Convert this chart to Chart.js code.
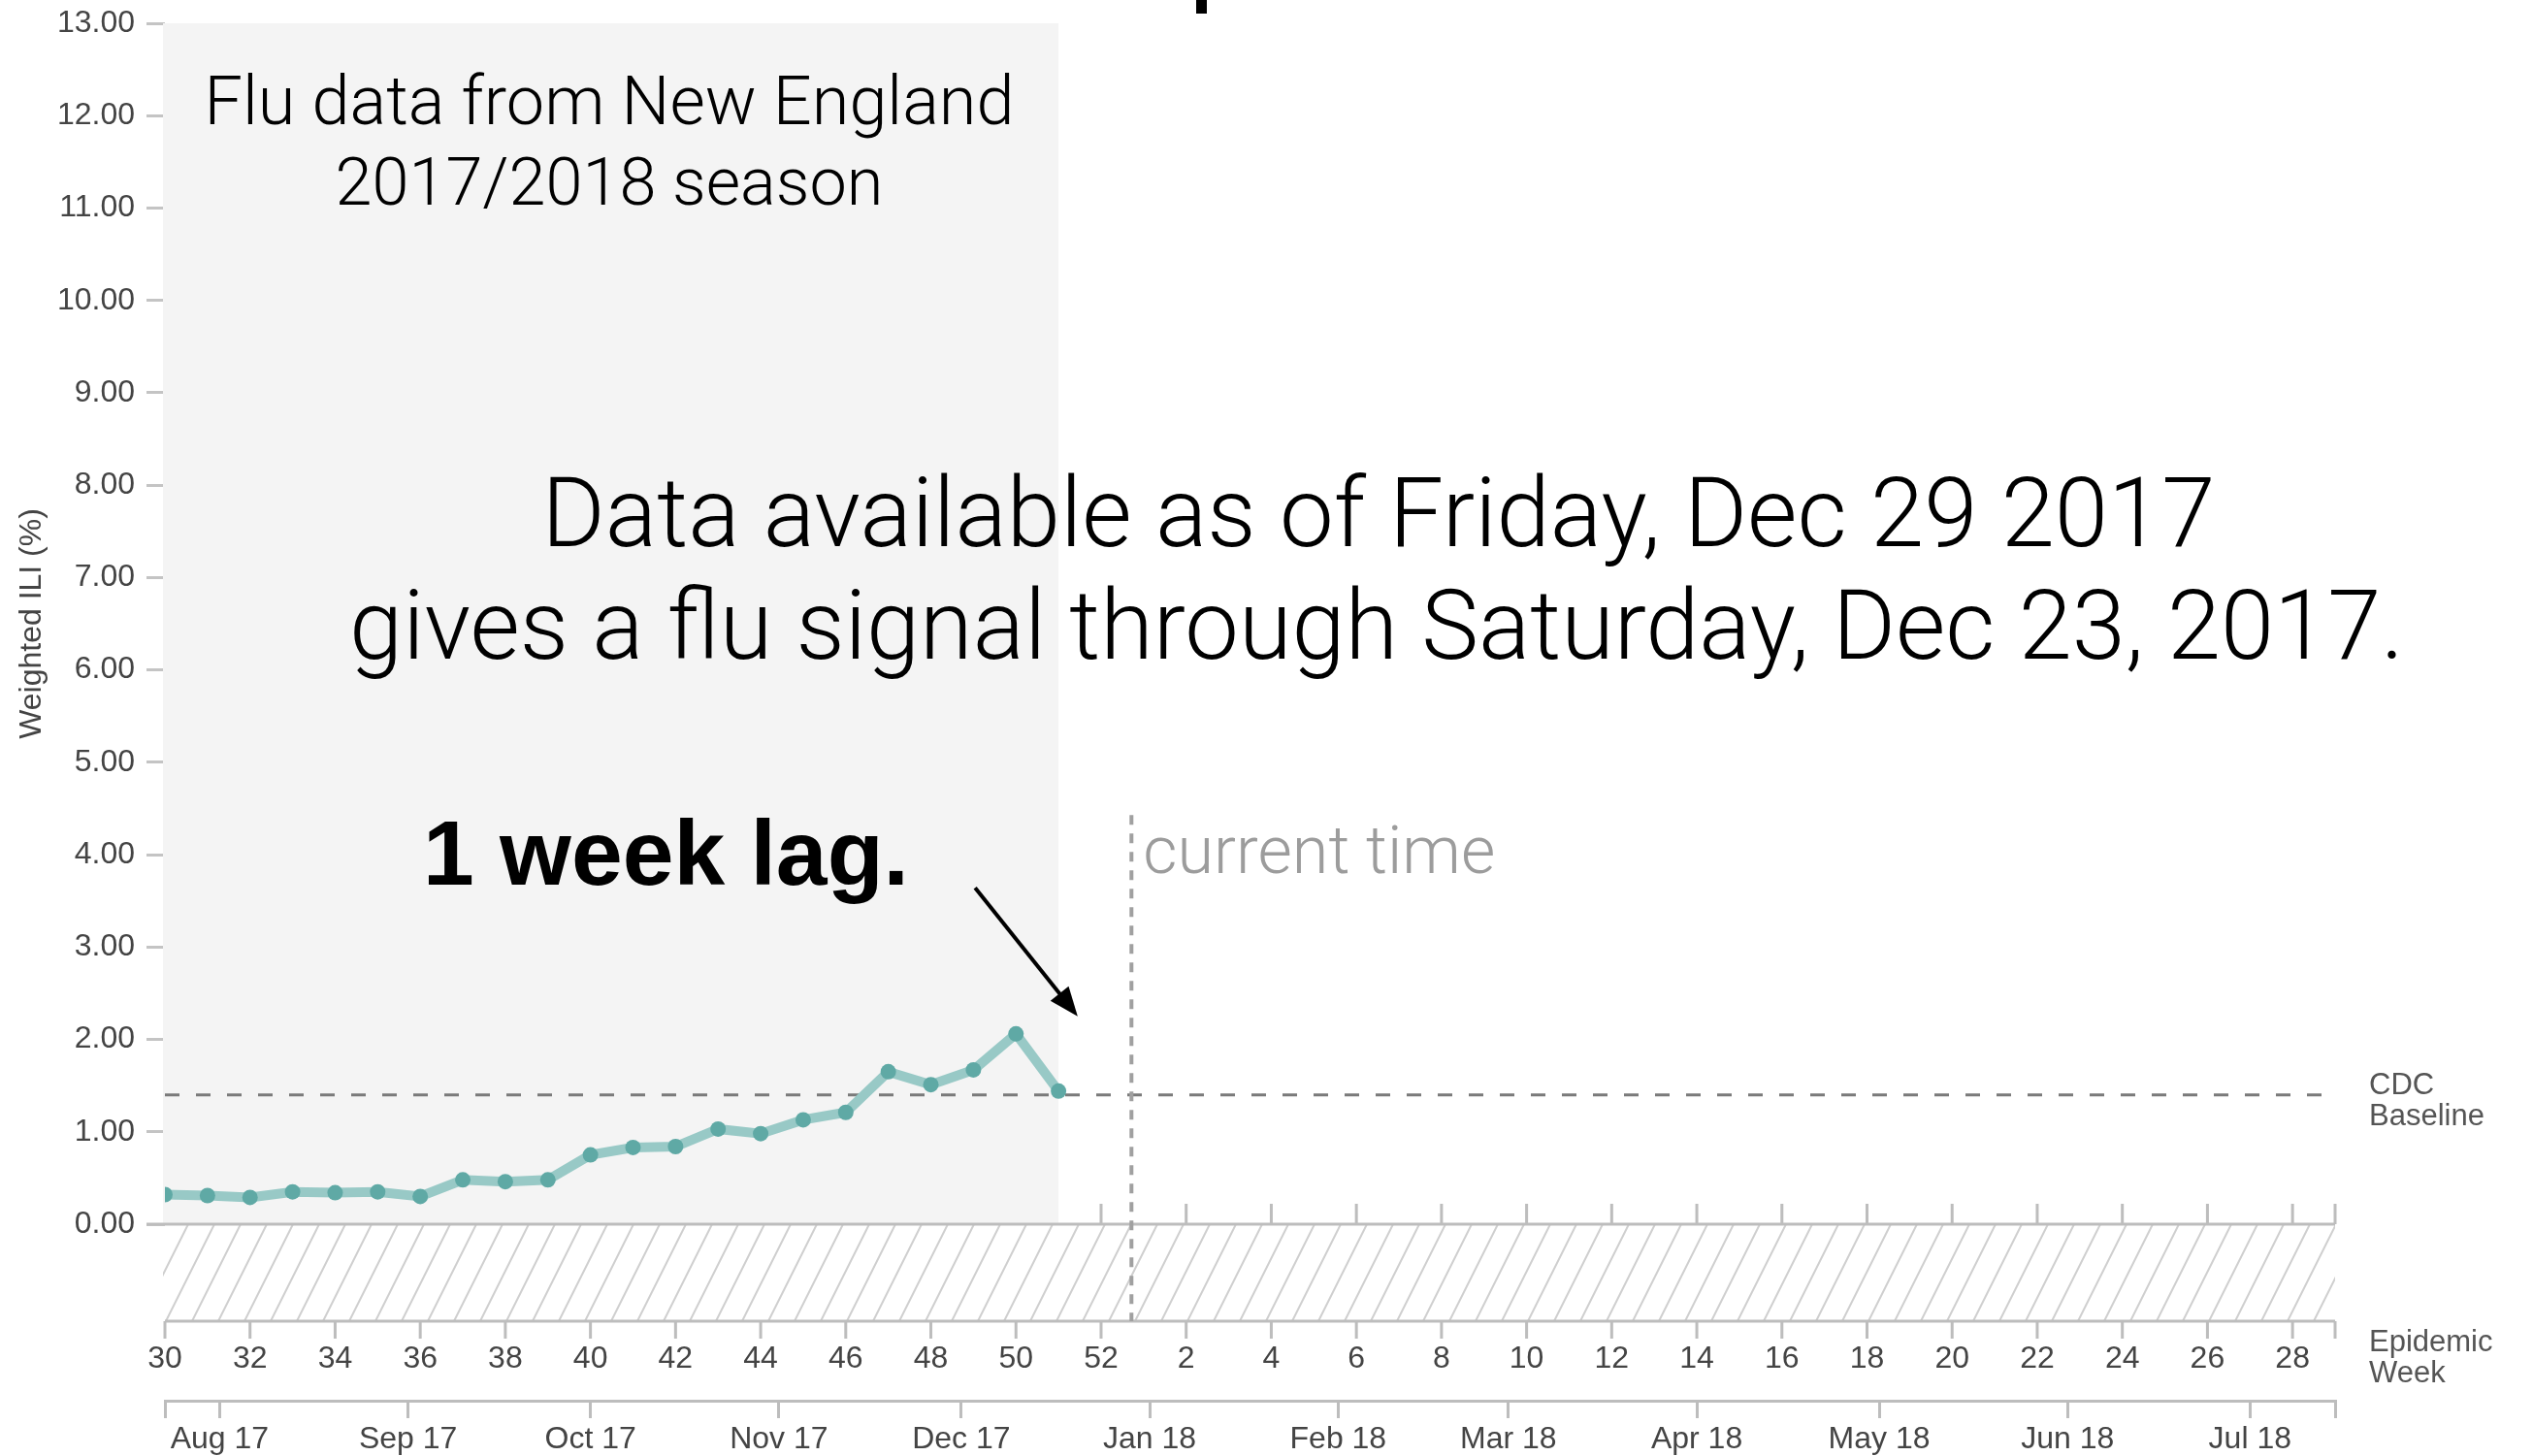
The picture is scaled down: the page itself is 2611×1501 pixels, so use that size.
<!DOCTYPE html>
<html>
<head>
<meta charset="utf-8">
<script src="https://cdn.jsdelivr.net/npm/chart.js@4.4.1/dist/chart.umd.min.js"></script>
<style>
  html, body { margin: 0; padding: 0; background: #fff; }
</style>
</head>
<body>
<canvas id="mychart" width="2611" height="1501"></canvas>
<script>
// epidemic weeks of the 2017/2018 season, in axis order
const seasonWeeks = [30,31,32,33,34,35,36,37,38,39,40,41,42,43,44,45,46,47,48,49,50,51,52,
                     1,2,3,4,5,6,7,8,9,10,11,12,13,14,15,16,17,18,19,20,21,22,23,24,25,26,27,28,29];

// weeks with data and their weighted ILI (%)
const fluWeeks = [30,31,32,33,34,35,36,37,38,39,40,41,42,43,44,45,46,47,48,49,50,51];
const iliValues = [0.32,0.31,0.29,0.35,0.34,0.35,0.30,0.48,0.46,0.48,0.75,0.83,0.84,1.03,0.98,1.13,1.21,1.65,1.51,1.67,2.06,1.44];

const yTicks = [0,1,2,3,4,5,6,7,8,9,10,11,12,13];
const monthLabels = ['Aug 17','Sep 17','Oct 17','Nov 17','Dec 17','Jan 18','Feb 18','Mar 18','Apr 18','May 18','Jun 18','Jul 18'];
const monthStarts = ['2017-08-01','2017-09-01','2017-10-01','2017-11-01','2017-12-01','2018-01-01',
                     '2018-02-01','2018-03-01','2018-04-01','2018-05-01','2018-06-01','2018-07-01'];

const seasonStart = '2017-07-23';   // sunday that opens week 30
const currentDay = '2017-12-29';
const cdcBaseline = 1.4;

const FONT = "'Liberation Sans', Arial, Helvetica, sans-serif";
const LIGHT = "Roboto, 'Liberation Sans', Arial, sans-serif";

// date -> position on the week axis
function weekIndex(d) {
  return (Date.parse(d) - Date.parse(seasonStart)) / (7 * 86400000);
}

// font size so that text takes the given width
function fitSize(ctx, text, font, width) {
  ctx.font = font.replace('SIZE', '100px');
  return 100 * width / ctx.measureText(text).width;
}

function drawText(ctx, text, x, y, font, size, color, align) {
  ctx.font = font.replace('SIZE', size + 'px');
  ctx.fillStyle = color;
  ctx.textAlign = align;
  ctx.textBaseline = 'alphabetic';
  ctx.fillText(text, x, y);
}

// background bits: hatch band, week ticks, shaded data area, baseline, current time
const backdrop = {
  id: 'backdrop',
  beforeDatasetsDraw(chart) {
    const {ctx, chartArea} = chart;
    const x = chart.scales.x, y = chart.scales.y;
    const y0 = y.getPixelForValue(0);
    const bandH = 100;
    const xEnd = x.getPixelForValue(seasonWeeks.length - 1);
    ctx.save();

    // hatched band under the zero line
    ctx.save();
    ctx.beginPath();
    ctx.rect(chartArea.left - 2, y0, xEnd - chartArea.left + 2, bandH);
    ctx.clip();
    ctx.strokeStyle = '#cfcfcf';
    ctx.lineWidth = 2;
    ctx.beginPath();
    for (let sx = chartArea.left - 80; sx < xEnd + 60; sx += 27) {
      ctx.moveTo(sx, y0 + bandH);
      ctx.lineTo(sx + 50, y0);
    }
    ctx.stroke();
    ctx.restore();

    // week tick marks above and below the band
    const tickVals = x.ticks.map(t => t.value).concat([seasonWeeks.length - 1]);
    ctx.strokeStyle = '#bdbdbd';
    ctx.lineWidth = 3;
    ctx.beginPath();
    tickVals.forEach(v => {
      const px = x.getPixelForValue(v);
      ctx.moveTo(px, y0 - 21); ctx.lineTo(px, y0);
      ctx.moveTo(px, y0 + bandH); ctx.lineTo(px, y0 + bandH + 18);
    });
    ctx.stroke();

    // shaded area covering the weeks that have data
    const lastData = seasonWeeks.indexOf(fluWeeks[fluWeeks.length - 1]);
    ctx.fillStyle = '#f4f4f4';
    ctx.fillRect(chartArea.left - 2, chartArea.top, x.getPixelForValue(lastData) - chartArea.left + 2, y0 - chartArea.top);

    // band border lines
    ctx.strokeStyle = '#bdbdbd';
    ctx.lineWidth = 3;
    ctx.beginPath();
    ctx.moveTo(chartArea.left - 19, y0); ctx.lineTo(xEnd, y0);
    ctx.moveTo(chartArea.left, y0 + bandH); ctx.lineTo(xEnd, y0 + bandH);
    ctx.stroke();

    // CDC baseline
    const yb = y.getPixelForValue(cdcBaseline);
    ctx.strokeStyle = '#7a7a7a';
    ctx.lineWidth = 3;
    ctx.setLineDash([15, 17]);
    ctx.beginPath();
    ctx.moveTo(chartArea.left, yb); ctx.lineTo(xEnd - 10, yb);
    ctx.stroke();

    // current time
    const xc = x.getPixelForValue(weekIndex(currentDay));
    ctx.strokeStyle = '#a0a0a0';
    ctx.lineWidth = 4;
    ctx.setLineDash([10, 9]);
    ctx.beginPath();
    ctx.moveTo(xc, y.getPixelForValue(4.43)); ctx.lineTo(xc, y0 + bandH);
    ctx.stroke();
    ctx.restore();
  },
  afterDraw(chart) {
    const {ctx} = chart;
    const x = chart.scales.x, y = chart.scales.y;
    const light = '300 SIZE ' + LIGHT;
    const bold = 'bold SIZE ' + FONT;
    const plain = 'normal SIZE ' + FONT;
    ctx.save();

    let s = fitSize(ctx, 'Flu data from New England', light, 835);
    drawText(ctx, 'Flu data from New England', 628, 128, light, s, '#000', 'center');
    s = fitSize(ctx, '2017/2018 season', light, 565);
    drawText(ctx, '2017/2018 season', 628, 211, light, s, '#000', 'center');

    const l1 = 'Data available as of Friday, Dec 29 2017';
    const l2 = 'gives a flu signal through Saturday, Dec 23, 2017.';
    s = fitSize(ctx, l1, light, 1725);
    drawText(ctx, l1, 1421, 563, light, s, '#000', 'center');
    s = fitSize(ctx, l2, light, 2118);
    drawText(ctx, l2, 1419, 679, light, s, '#000', 'center');

    s = fitSize(ctx, '1 week lag.', bold, 501);
    drawText(ctx, '1 week lag.', 436, 912, bold, s, '#000', 'left');

    // arrow pointing at the last week with data
    const ax1 = x.getPixelForValue(19.04), ay1 = y.getPixelForValue(3.64);
    const ax2 = x.getPixelForValue(21.45), ay2 = y.getPixelForValue(2.25);
    const ang = Math.atan2(ay2 - ay1, ax2 - ax1);
    ctx.strokeStyle = '#000';
    ctx.lineWidth = 4;
    ctx.beginPath();
    ctx.moveTo(ax1, ay1);
    ctx.lineTo(ax2 - 20 * Math.cos(ang), ay2 - 20 * Math.sin(ang));
    ctx.stroke();
    ctx.fillStyle = '#000';
    ctx.beginPath();
    ctx.moveTo(ax2, ay2);
    ctx.lineTo(ax2 - 30 * Math.cos(ang) + 12 * Math.sin(ang), ay2 - 30 * Math.sin(ang) - 12 * Math.cos(ang));
    ctx.lineTo(ax2 - 30 * Math.cos(ang) - 12 * Math.sin(ang), ay2 - 30 * Math.sin(ang) + 12 * Math.cos(ang));
    ctx.closePath();
    ctx.fill();

    const xc = x.getPixelForValue(weekIndex(currentDay));
    s = fitSize(ctx, 'current time', light, 363);
    drawText(ctx, 'current time', xc + 12, 900, light, s, '#9c9c9c', 'left');

    const yb = y.getPixelForValue(cdcBaseline);
    drawText(ctx, 'CDC', 2442, yb - 1, plain, 31, '#555', 'left');
    drawText(ctx, 'Baseline', 2442, yb + 31, plain, 31, '#555', 'left');
    drawText(ctx, 'Epidemic', 2442, 1393, plain, 31, '#555', 'left');
    drawText(ctx, 'Week', 2442, 1425, plain, 31, '#555', 'left');

    // cut-off piece of the slide title at the top edge
    ctx.fillStyle = '#000';
    ctx.fillRect(1233, 0, 11, 14);
    ctx.restore();
  }
};

const ctx = document.getElementById('mychart');

new Chart(ctx, {
  type: 'line',
  data: {
    datasets: [{
      data: fluWeeks.map((w, i) => ({x: seasonWeeks.indexOf(w), y: iliValues[i]})),
      borderColor: '#98c9c6',
      borderWidth: 10,
      pointRadius: 8,
      pointBackgroundColor: '#5fa9a5',
      pointBorderWidth: 0,
      tension: 0
    }]
  },
  options: {
    responsive: false,
    animation: false,
    devicePixelRatio: 1,
    layout: { padding: { top: 24, right: 204, bottom: 0, left: 0 } },
    plugins: { legend: { display: false }, tooltip: { enabled: false } },
    scales: {
      x: {
        type: 'linear', position: 'bottom', min: 0, max: seasonWeeks.length - 1,
        afterFit: s => { s.height = 182; },
        afterBuildTicks: s => { s.ticks = seasonWeeks.map((w, i) => ({value: i})).filter(t => t.value % 2 === 0); },
        ticks: {
          callback: v => seasonWeeks[v],
          autoSkip: false, maxRotation: 0, padding: 120,
          color: '#444', font: { family: FONT, size: 32 }
        },
        grid: { display: false, drawTicks: false },
        border: { display: false }
      },
      x2: {
        type: 'linear', position: 'bottom', min: 0, max: seasonWeeks.length - 1,
        afterFit: s => { s.height = 57; },
        afterBuildTicks: s => {
          s.ticks = [{value: 0}].concat(monthStarts.map(d => ({value: weekIndex(d)})), [{value: seasonWeeks.length - 1}]);
        },
        ticks: {
          callback: (v, i) => (i >= 1 && i <= monthLabels.length) ? monthLabels[i - 1] : '',
          autoSkip: false, maxRotation: 0, padding: 3,
          color: '#444', font: { family: FONT, size: 32 }
        },
        grid: { drawOnChartArea: false, tickLength: 18, color: '#bdbdbd', lineWidth: 3 },
        border: { display: true, color: '#bdbdbd', width: 3 }
      },
      y: {
        min: 0, max: 13,
        afterFit: s => { s.width = 170; s.paddingTop = 0; s.paddingBottom = 0; },
        afterBuildTicks: s => { s.ticks = yTicks.map(v => ({value: v})); },
        ticks: {
          callback: v => v.toFixed(2),
          padding: 12, color: '#444', font: { family: FONT, size: 32 }
        },
        grid: { drawOnChartArea: false, tickLength: 19, color: '#c4c4c4', lineWidth: 3 },
        border: { display: false },
        title: {
          display: true, text: 'Weighted ILI (%)', color: '#444',
          font: { family: FONT, size: 32 }, padding: { top: 14, bottom: 0 }
        }
      }
    }
  },
  plugins: [backdrop]
});
</script>
</body>
</html>
